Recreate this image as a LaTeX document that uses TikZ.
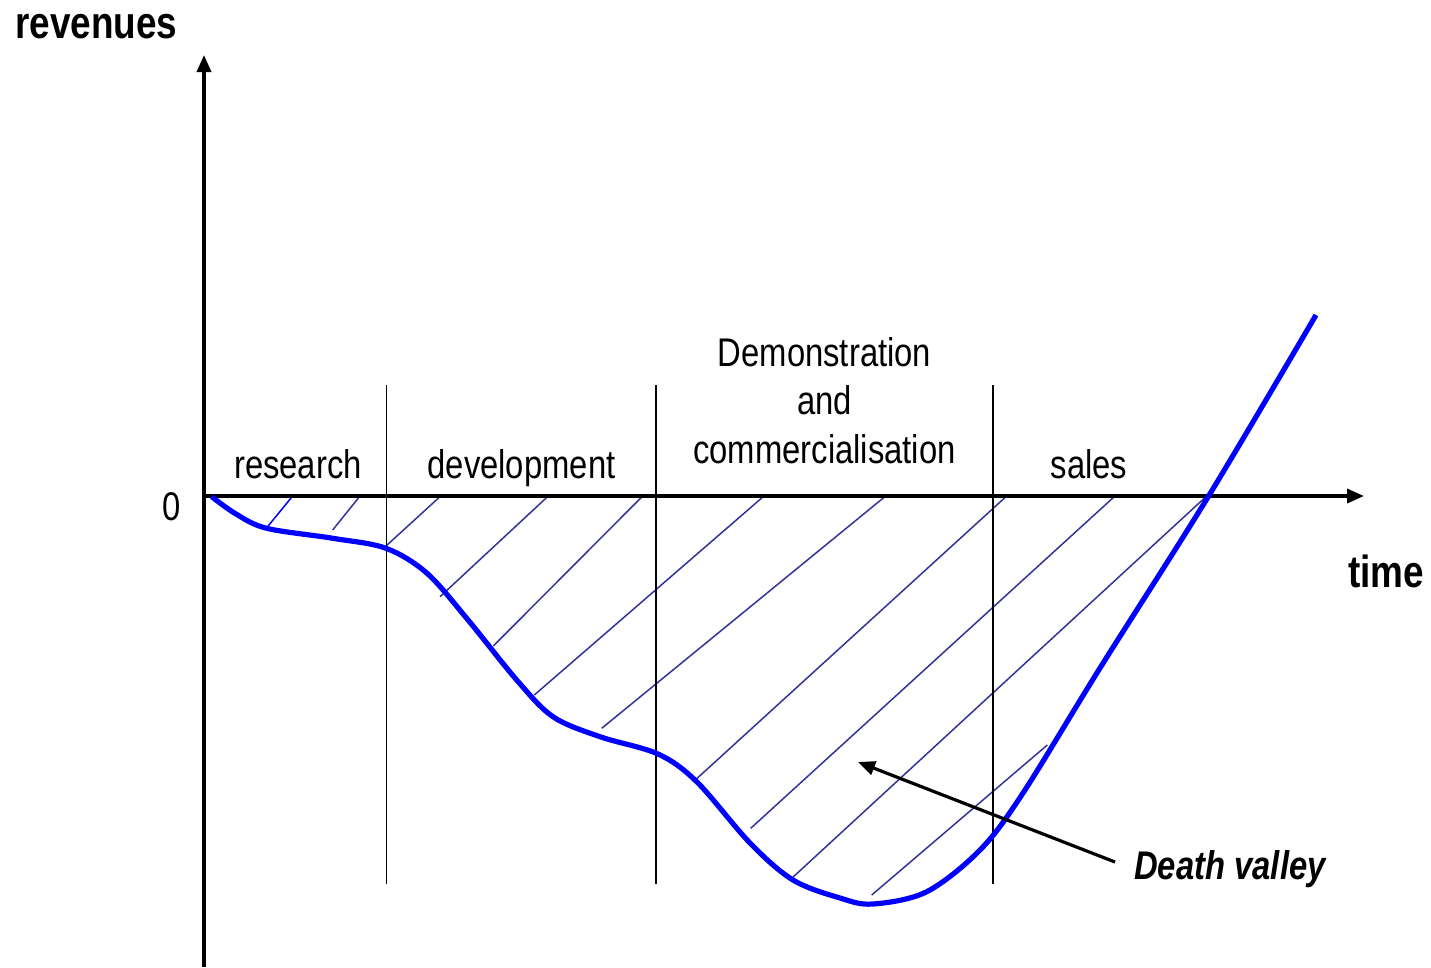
\documentclass[tikz,border=0pt]{standalone}
\usepackage{fontspec}
\setmainfont{Liberation Sans}[FakeStretch=0.82]
\usetikzlibrary{arrows.meta}
\definecolor{hatchblue}{RGB}{51,51,153}
\begin{document}
\begin{tikzpicture}[x=1pt,y=-1pt,
  axis/.style={line width=3.4pt,-{Triangle[length=17pt,width=14pt]}},
  phase/.style={line width=1.7pt,black},
  hatch/.style={line width=1.5pt,hatchblue},
  curve/.style={line width=5.2pt,blue},
  lbl/.style={font=\fontsize{40}{48}\selectfont,inner sep=0pt,anchor=base},
  blbl/.style={font=\fontsize{45}{54}\selectfont\bfseries,inner sep=0pt,anchor=base},
  dvlbl/.style={font=\fontsize{40}{48}\selectfont\bfseries\itshape,inner sep=0pt,anchor=base west},
  pointer/.style={line width=3.2pt,-{Triangle[length=17pt,width=14pt]}}]
\useasboundingbox (0,0) rectangle (1431,967);
\fill[white] (0,0) rectangle (1431,967);

% coordinates of axes
\coordinate (ybot) at (204,967);
\coordinate (ytip) at (204,55);
\coordinate (xstart) at (202,496);
\coordinate (xtip) at (1364,496);

% hatching
\draw[line width=1.5pt,blue] (292.7,496) -- (267.3,527);
\draw[hatch] (360,496) -- (332.7,530);
\draw[hatch] (440.7,496) -- (386,546);
\draw[hatch] (548.3,496) -- (440,596.7);
\draw[hatch] (642.7,496) -- (493.3,646);
\draw[hatch] (764,496) -- (534.3,695);
\draw[hatch] (885.7,496) -- (601.7,728.3);
\draw[hatch] (1006.7,496) -- (696,779.3);
\draw[hatch] (1115,496) -- (750.7,828.3);
\draw[hatch] (1206.7,496) -- (791.7,878.3);
\draw[hatch] (1047.3,745) -- (871.7,895);

% phase separators
\coordinate (p1t) at (386.5,385); \coordinate (p1b) at (386.5,884);
\coordinate (p2t) at (656,385);   \coordinate (p2b) at (656,884);
\coordinate (p3t) at (993,385);   \coordinate (p3b) at (993,884);
\draw[phase] (p1t) -- (p1b);
\draw[phase] (p2t) -- (p2b);
\draw[phase] (p3t) -- (p3b);

% axes
\draw[axis] (ybot) -- (ytip);
\draw[axis] (xstart) -- (xtip);

% curve
\draw[curve] plot[smooth,tension=0.55] coordinates {
 (211.7,496.7) (236,514) (266.7,528.3) (333,538.3) (386,548.3) (426.7,573)
 (466.7,618.3) (516.7,680) (553,716.7) (600,736.7) (658,754)
 (696.7,781.7) (750,843) (793,880) (840,898) (873,904) (926.7,891.7)
 (980,850) (1023,793) (1100,668) (1208,497) (1316,315)};

% labels
\node[blbl] (rev) at (96.5,38) {revenues};
\node[blbl] (time) at (1386,587) {time};
\node[lbl] (zero) at (172,520) {0};
\node[lbl] (res) at (298,478) {research};
\node[lbl] (dev) at (521.5,478) {development};
\node[lbl] (dem1) at (824.5,366) {Demonstration};
\node[lbl] (dem2) at (824.5,414.5) {and};
\node[lbl] (dem3) at (824.5,463) {commercialisation};
\node[lbl] (sales) at (1089,478) {sales};
\node[dvlbl] (dv) at (1134,879) {Death valley};

% pointer
\coordinate (dvstart) at (1115,862);
\coordinate (dvtip) at (858,762);
\draw[pointer] (dvstart) -- (dvtip);
\end{tikzpicture}
\end{document}
